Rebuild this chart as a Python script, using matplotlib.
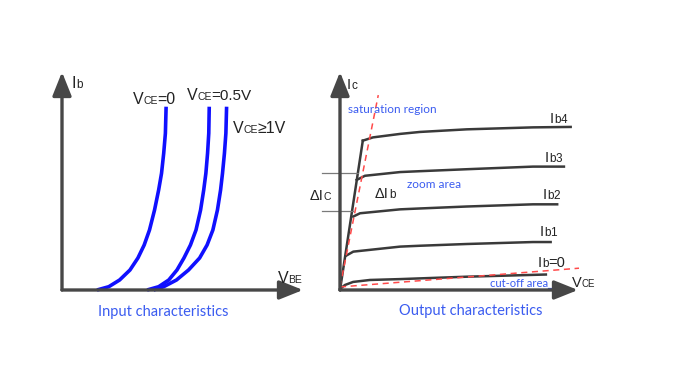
import matplotlib
matplotlib.use("Agg")
import matplotlib.pyplot as plt
from matplotlib.offsetbox import TextArea, HPacker, AnnotationBbox

# ---------------- data ----------------
# Input characteristics: VBE (V) vs Ib (uA)
ib_levels = [0, 1.51, 4.59, 9.17, 14.68, 20.64, 27.52, 36.70, 45.87,
             53.53, 62.71, 71.88, 84.08]
vbe_vce0 = [0.145, 0.194, 0.239, 0.282, 0.315, 0.341, 0.363, 0.384, 0.401,
            0.413, 0.422, 0.429, 0.432]
vbe_vce05 = [0.353, 0.401, 0.443, 0.477, 0.506, 0.533, 0.556, 0.575, 0.588,
             0.597, 0.604, 0.609, 0.611]
vbe_vce1 = [0.380, 0.422, 0.475, 0.525, 0.571, 0.602, 0.626, 0.645, 0.658,
            0.666, 0.674, 0.680, 0.683]
input_labels = ["=0", "=0.5V", "≥1V"]

# Output characteristics: VCE (V) vs Ic (mA)
sat_vce = [0.0, 1.15]
sat_ic = [0.0, 6.85]
ib4_vce = [1.15, 1.66, 3.03, 4.03, 6.39, 9.73, 11.63]
ib4_ic = [6.85, 7.00, 7.16, 7.25, 7.37, 7.46, 7.48]
ib3_vce = [0.84, 1.26, 3.03, 4.03, 6.39, 9.73, 11.29]
ib3_ic = [5.05, 5.24, 5.41, 5.45, 5.54, 5.66, 5.66]
ib2_vce = [0.67, 1.01, 3.03, 4.03, 6.39, 9.73, 10.95]
ib2_ic = [3.37, 3.52, 3.70, 3.74, 3.83, 3.93, 3.93]
ib1_vce = [0.30, 0.67, 3.03, 4.03, 6.39, 9.73, 10.62]
ib1_ic = [1.57, 1.76, 1.99, 2.03, 2.11, 2.20, 2.20]
ib0_vce = [0.0, 0.25, 0.66, 1.51, 3.03, 6.39, 10.38]
ib0_ic = [0.05, 0.23, 0.37, 0.46, 0.50, 0.61, 0.71]
sat_boundary_vce = [0.0, 1.93]
sat_boundary_ic = [0.15, 8.94]
cutoff_vce = [0.0, 12.05]
cutoff_ic = [0.14, 1.0]
delta_ic_levels = [5.35, 3.62]
delta_ic_x_end = [0.92, 0.67]
curve_names = ["4", "3", "2", "1", "=0"]

# ---------------- style ----------------
AX_COL = "#474747"
CURVE_COL = "#3a3a3a"
BLUE = "#1010ff"
TXT_BLUE = "#3b5cf0"
RED = "#ff4a4a"
LAB_FONT = ["Liberation Sans", "DejaVu Sans"]
BLUE_FONT = ["Lato", "DejaVu Sans"]

fig = plt.figure(figsize=(6.92, 3.67), dpi=100)
W, H = 692, 367
axL = fig.add_axes([62 / W, (H - 290) / H, 241 / W, 218 / H])
axR = fig.add_axes([340 / W, (H - 290) / H, 238 / W, 218 / H])
axL.set_xlim(0, 1.0); axL.set_ylim(0, 100)
axR.set_xlim(0, 12.0); axR.set_ylim(0, 10)
for ax in (axL, axR):
    ax.set_axis_off()


def arrow(ax, x0, y0, x1, y1):
    ax.annotate("", xy=(x1, y1), xytext=(x0, y0),
                arrowprops=dict(arrowstyle="-|>,head_length=0.8,head_width=0.32",
                                mutation_scale=18, lw=2.4, color=AX_COL,
                                shrinkA=0, shrinkB=0),
                annotation_clip=False)


def label(ax, parts, x, y, align=(0, 0.5), color="#222222", family=LAB_FONT):
    kids = [TextArea(t, textprops=dict(fontsize=s, color=color, family=family))
            for t, s in parts]
    box = HPacker(children=kids, align="baseline", pad=0, sep=0)
    ab = AnnotationBbox(box, (x, y), xycoords="data", box_alignment=align,
                        frameon=False, pad=0, annotation_clip=False)
    ax.add_artist(ab)


# ---------------- input characteristics ----------------
arrow(axL, 0, 0, 0, 100)
arrow(axL, 0, 0, 1.0, 0)
for xs in (vbe_vce0, vbe_vce05, vbe_vce1):
    axL.plot(xs, ib_levels, color=BLUE, lw=2.6, solid_capstyle="butt",
             solid_joinstyle="round", clip_on=False)

BIG, SUB = 11.5, 7.5
label(axL, [("I", BIG), ("b", SUB + 1)], 0.041, 94.5)
label(axL, [("V", BIG), ("CE", SUB), (input_labels[0], BIG)], 0.293, 87.6)
label(axL, [("V", BIG), ("CE", SUB), (input_labels[1], BIG - 0.5)], 0.517, 89.4)
label(axL, [("V", BIG), ("CE", SUB), (input_labels[2], BIG)], 0.708, 73.9)
label(axL, [("V", BIG), ("BE", SUB)], 0.894, 5.5)
axL.text(0.419, -10.1, "Input characteristics", ha="center", va="center",
         fontsize=10.5, color=TXT_BLUE, family=BLUE_FONT, clip_on=False)

# ---------------- output characteristics ----------------
arrow(axR, 0, 0, 0, 10)
arrow(axR, 0, 0, 12.0, 0)
axR.plot(sat_vce, sat_ic, color=CURVE_COL, lw=1.8, clip_on=False)
for xs, ys in ((ib4_vce, ib4_ic), (ib3_vce, ib3_ic), (ib2_vce, ib2_ic),
               (ib1_vce, ib1_ic), (ib0_vce, ib0_ic)):
    axR.plot(xs, ys, color=CURVE_COL, lw=1.8, solid_joinstyle="round",
             clip_on=False)
for lvl, xe in zip(delta_ic_levels, delta_ic_x_end):
    axR.plot([-0.92, xe], [lvl, lvl], color="#7a7a7a", lw=0.9, clip_on=False)
axR.plot(sat_boundary_vce, sat_boundary_ic, color=RED, lw=1.1,
         ls=(0, (4, 3)), clip_on=False)
axR.plot(cutoff_vce, cutoff_ic, color=RED, lw=1.1, ls=(0, (4, 3)),
         clip_on=False)

OB, OS = 10.5, 7.5
label(axR, [("I", OB), ("c", OS + 1)], 0.35, 9.40)
ib_pos = [(10.59, 7.84), (10.34, 6.06), (10.24, 4.36), (10.08, 2.66), (9.98, 1.24)]
for name, (x, y) in zip(curve_names, ib_pos):
    if name.startswith("="):
        label(axR, [("I", OB), ("b", OS + 1), (name, OB)], x, y)
    else:
        label(axR, [("I", OB), ("b", OS + 1), (name, OS + 1)], x, y)
label(axR, [("V", OB), ("CE", OS - 0.5)], 11.70, 0.32)
label(axR, [("ΔI", OB), ("C", OS)], -1.51, 4.31)
label(axR, [("ΔI", OB), ("b", OS + 1)], 1.76, 4.40)

axR.text(0.40, 8.30, "saturation region", ha="left", va="center", fontsize=8.5,
         color=TXT_BLUE, family=BLUE_FONT, clip_on=False)
axR.text(3.38, 4.86, "zoom area", ha="left", va="center", fontsize=8.5,
         color=TXT_BLUE, family=BLUE_FONT, clip_on=False)
axR.text(7.56, 0.32, "cut-off area", ha="left", va="center", fontsize=8.1,
         color=TXT_BLUE, family=BLUE_FONT, clip_on=False)
axR.plot([10.49, 11.24], [0.09, 0.09], color=TXT_BLUE, lw=0.9, clip_on=False)
axR.text(6.61, -0.96, "Output characteristics", ha="center", va="center",
         fontsize=10.5, color=TXT_BLUE, family=BLUE_FONT, clip_on=False)

fig.savefig("out.png", dpi=100)
